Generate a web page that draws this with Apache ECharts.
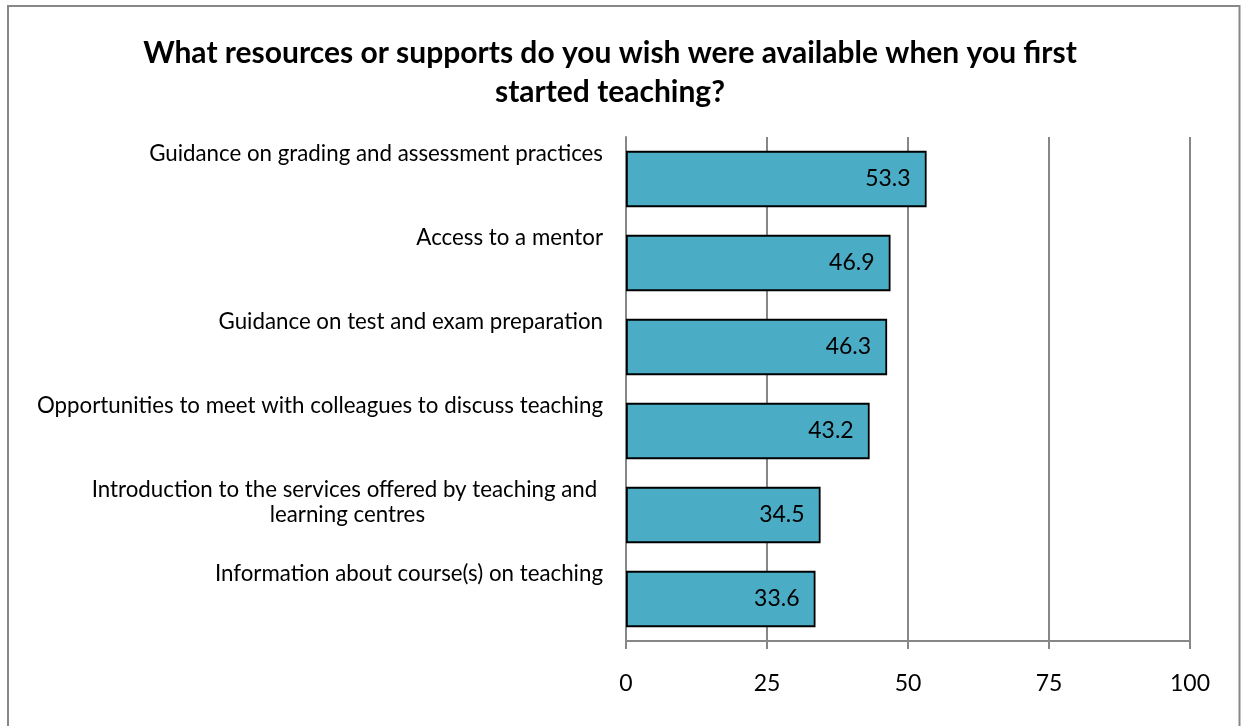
<!DOCTYPE html>
<html>
<head>
<meta charset="utf-8">
<script src="https://cdn.jsdelivr.net/npm/echarts@6/dist/echarts.min.js"></script>
<style>
  html, body { margin: 0; padding: 0; background: #ffffff; }
  #chart { width: 1241px; height: 726px; }
</style>
</head>
<body>
<div id="chart"></div>
<script>
// Survey answers, listed top to bottom
const categories = [
  ['Guidance on grading and assessment practices'],
  ['Access to a mentor'],
  ['Guidance on test and exam preparation'],
  ['Opportunities to meet with colleagues to discuss teaching'],
  ['Introduction to the services offered by teaching and ', 'learning centres'],
  ['Information about course(s) on teaching']
];
const percentages = [53.3, 46.9, 46.3, 43.2, 34.5, 33.6];
const xTicks = [0, 25, 50, 75, 100];
const titleLines = [
  'What resources or supports do you wish were available when you first',
  'started teaching?'
];

const FONT = 'Lato, "Open Sans", sans-serif';
const GRID_GRAY = '#878787';

const chart = echarts.init(document.getElementById('chart'), null, { renderer: 'canvas' });

// Each category label is padded to three lines so its first line sits in the upper part of its band
const categoryKeys = categories.map(c => c.join('|'));
function categoryLabel(key) {
  const lines = key.split('|');
  while (lines.length < 3) lines.push(' ');
  return lines.map(l => '{c|' + l + '}').join('\n');
}

chart.setOption({
  backgroundColor: '#ffffff',
  animation: false,
  graphic: [
    {
      type: 'rect',
      shape: { x: 8, y: 6, width: 1231.5, height: 740 },
      style: { fill: 'none', stroke: GRID_GRAY, lineWidth: 2 },
      silent: true
    },
    {
      type: 'text',
      x: 610,
      y: 34,
      style: {
        text: titleLines.join('\n'),
        font: 'bold 30px ' + FONT,
        fill: '#000000',
        textAlign: 'center',
        textVerticalAlign: 'top',
        align: 'center',
        verticalAlign: 'top',
        lineHeight: 39
      },
      silent: true
    }
  ],
  grid: { left: 626, right: 51, top: 137, bottom: 85, containLabel: false },
  xAxis: {
    type: 'value',
    min: 0,
    max: 100,
    interval: 25,
    axisLine: { show: true, lineStyle: { color: GRID_GRAY, width: 2 } },
    axisTick: { show: true, length: 8, lineStyle: { color: GRID_GRAY, width: 2 } },
    splitLine: { show: true, lineStyle: { color: GRID_GRAY, width: 2 } },
    axisLabel: {
      color: '#000000',
      fontFamily: FONT,
      fontSize: 23,
      margin: 31,
      formatter: v => (xTicks.indexOf(v) >= 0 ? String(v) : '')
    }
  },
  yAxis: {
    type: 'category',
    inverse: true,
    data: categoryKeys,
    axisLine: { show: true, lineStyle: { color: GRID_GRAY, width: 2 } },
    axisTick: { show: false },
    axisLabel: {
      interval: 0,
      margin: 23,
      color: '#000000',
      verticalAlign: 'middle',
      formatter: categoryLabel,
      rich: {
        c: {
          fontFamily: FONT,
          fontSize: 22.3,
          color: '#000000',
          lineHeight: 25,
          align: 'center'
        }
      }
    }
  },
  series: [
    {
      type: 'bar',
      data: percentages,
      barCategoryGap: '33%',
      itemStyle: { color: '#4BACC6', borderColor: '#000000', borderWidth: 1.8 },
      label: {
        show: true,
        position: 'insideRight',
        distance: 16,
        color: '#000000',
        fontFamily: FONT,
        fontSize: 23,
        formatter: p => p.value.toFixed(1)
      }
    }
  ]
});
</script>
</body>
</html>
